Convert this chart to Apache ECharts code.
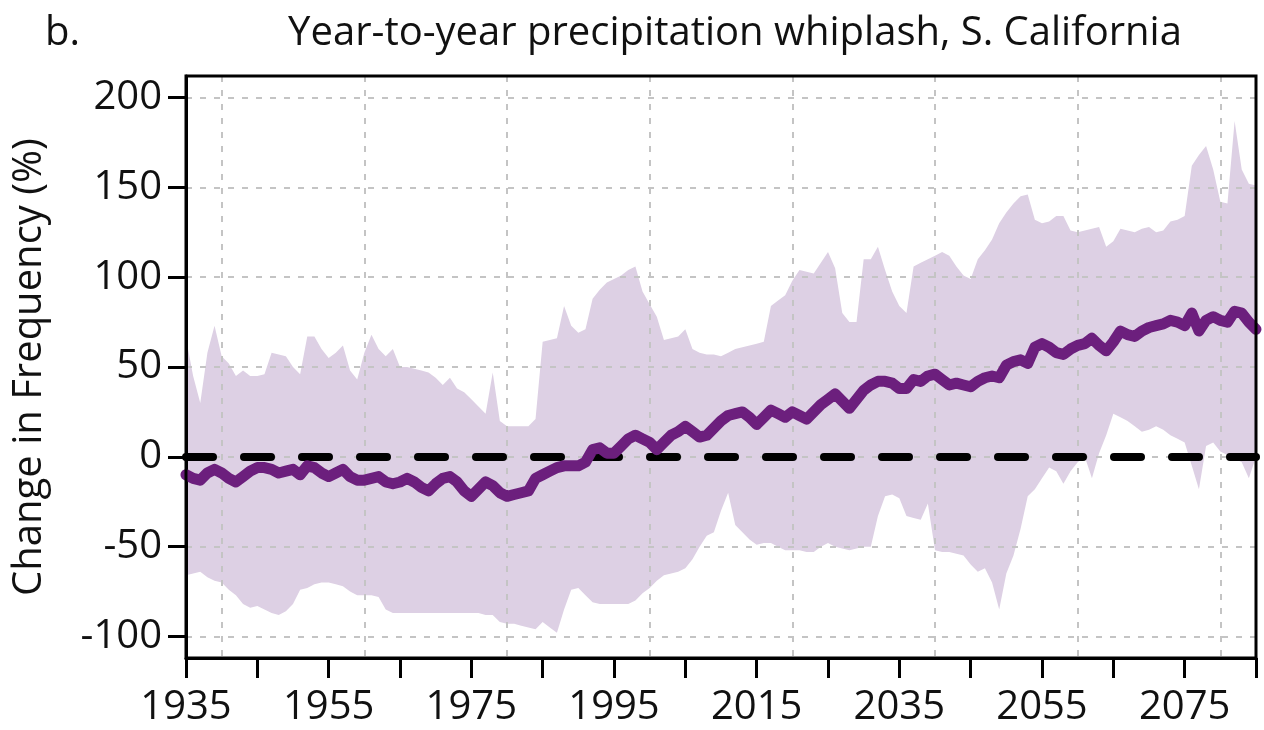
<!DOCTYPE html>
<html>
<head>
<meta charset="utf-8">
<title>Year-to-year precipitation whiplash</title>
<script src="https://cdn.jsdelivr.net/npm/echarts@6/dist/echarts.min.js"></script>
<style>
  html, body { margin: 0; padding: 0; background: #fff; }
  #chart { width: 1264px; height: 730px; }
</style>
</head>
<body>
<div id="chart"></div>
<script>
// first year of the series, one value per year afterwards
const startYear = 1935;

// multi-model mean change in frequency (%)
const meanChange = [
  -10, -12, -13, -9, -7, -9, -12, -14, -11, -8,
  -6, -6, -7, -9, -8, -7, -10, -5, -6, -9,
  -11, -9, -7, -11, -13, -13, -12, -11, -14, -15,
  -14, -12, -14, -17, -19, -15, -12, -11, -14, -19,
  -22, -18, -14, -16, -20, -22, -21, -20, -19, -12,
  -10, -8, -6, -5, -5, -5, -3, 4, 5, 2,
  2, 6, 10, 12, 10, 8, 4, 8, 12, 14,
  17, 14, 11, 12, 16, 20, 23, 24, 25, 22,
  18, 22, 26, 24, 22, 25, 23, 21, 25, 29,
  32, 35, 31, 27, 32, 37, 40, 42, 42, 41,
  38, 38, 43, 42, 45, 46, 43, 40, 41, 40,
  39, 42, 44, 45, 44, 51, 53, 54, 52, 61,
  63, 61, 58, 57, 60, 62, 63, 66, 62, 59,
  64, 70, 68, 67, 70, 72, 73, 74, 76, 75,
  73, 80, 70, 76, 78, 76, 75, 81, 80, 75,
  71
];

// upper edge of the model spread
const upperChange = [
  66, 45, 30, 58, 73, 56, 52, 45, 48, 45,
  45, 46, 58, 57, 56, 50, 46, 67, 67, 60,
  55, 58, 62, 48, 43, 58, 68, 60, 56, 60,
  50, 50, 49, 48, 47, 44, 40, 44, 38, 36,
  32, 28, 24, 47, 20, 17, 17, 17, 17, 21,
  64, 65, 66, 84, 73, 69, 71, 88, 93, 97,
  99, 101, 104, 106, 92, 85, 78, 65, 66, 67,
  71, 60, 58, 57, 57, 56, 58, 60, 61, 62,
  63, 64, 84, 87, 90, 98, 104, 103, 102, 108,
  114, 105, 80, 75, 75, 110, 110, 117, 104, 92,
  84, 80, 106, 108, 110, 112, 114, 112, 106, 101,
  99, 110, 115, 121, 130, 136, 141, 145, 146, 132,
  130, 131, 134, 134, 126, 125, 126, 127, 128, 117,
  120, 127, 126, 125, 127, 128, 125, 126, 131, 132,
  134, 162, 168, 173, 160, 142, 141, 187, 160, 152,
  151
];

// lower edge of the model spread
const lowerChange = [
  -66, -65, -64, -67, -69, -70, -74, -77, -82, -84,
  -83, -85, -87, -88, -86, -82, -74, -73, -71, -70,
  -70, -71, -72, -75, -77, -77, -77, -78, -85, -87,
  -87, -87, -87, -87, -87, -87, -87, -87, -87, -87,
  -87, -87, -88, -88, -92, -93, -93, -94, -95, -96,
  -92, -95, -98, -85, -74, -73, -77, -81, -82, -82,
  -82, -82, -82, -80, -76, -73, -69, -66, -65, -64,
  -62, -57, -50, -44, -42, -30, -20, -38, -42, -46,
  -49, -48, -48, -50, -52, -52, -52, -53, -53, -50,
  -48, -50, -51, -52, -51, -50, -50, -33, -22, -21,
  -23, -33, -34, -35, -26, -52, -53, -53, -54, -55,
  -60, -64, -62, -70, -85, -65, -55, -40, -22, -18,
  -12, -6, -8, -15, -8, -3, 0, -12, 2, 12,
  24, 22, 20, 17, 14, 15, 17, 15, 12, 10,
  8, -5, -18, 6, 8, 3, 1, -1, -3, -12,
  0
];

// axis ticks and labels
const xTickYears = [1935, 1945, 1955, 1965, 1975, 1985, 1995, 2005, 2015, 2025, 2035, 2045, 2055, 2065, 2075, 2085];
const xLabelYears = [1935, 1955, 1975, 1995, 2015, 2035, 2055, 2075];
const xGridYears = [1940, 1960, 1980, 2000, 2020, 2040, 2060, 2080];
const yTicks = [-100, -50, 0, 50, 100, 150, 200];
const zeroLevel = 0;

const toPairs = (arr) => arr.map((v, i) => [startYear + i, v]);
const bandData = upperChange.map((u, i) => [startYear + i, lowerChange[i], u]);

const FONT = "'Open Sans', 'Liberation Sans', sans-serif";
const gridLine = { show: true, lineStyle: { color: "#c4c4c4", width: 2, type: [6, 8] } };

const chart = echarts.init(document.getElementById("chart"));

// spread drawn as one polygon: upper edge left->right, lower edge back
function renderBand(params, api) {
  if (params.dataIndex !== 0) return null;
  const top = [];
  const bottom = [];
  for (let i = 0; i < bandData.length; i++) {
    top.push(api.coord([bandData[i][0], bandData[i][2]]));
    bottom.push(api.coord([bandData[i][0], bandData[i][1]]));
  }
  return {
    type: "polygon",
    shape: { points: top.concat(bottom.reverse()) },
    style: { fill: "#ddd0e4" },
    silent: true
  };
}

const options = {
  backgroundColor: "#fff",
  animation: false,
  textStyle: { fontFamily: FONT, color: "#111" },
  title: [
    {
      text: "Year-to-year precipitation whiplash, S. California",
      left: 730, top: 9, textAlign: "center",
      textStyle: { fontFamily: FONT, fontSize: 40, fontWeight: "normal", color: "#111" }
    },
    {
      text: "b.", left: 40, top: 9,
      textStyle: { fontFamily: FONT, fontSize: 40, fontWeight: "normal", color: "#111" }
    }
  ],
  grid: {
    left: 186, right: 8, top: 76, bottom: 72,
    show: true, borderColor: "#000", borderWidth: 3, z: 10
  },
  xAxis: [
    {
      type: "value", min: 1935, max: 2085, interval: 10, z: 6,
      axisLine: { show: true, onZero: false, lineStyle: { color: "#000", width: 3 } },
      axisTick: { show: true, length: 20, lineStyle: { color: "#000", width: 3 }, customValues: xTickYears },
      axisLabel: {
        customValues: xLabelYears, fontSize: 40, color: "#111", margin: 30, fontFamily: FONT,
        formatter: (v) => String(v)
      },
      splitLine: { show: false }
    },
    {
      type: "value", min: 1935, max: 2085, position: "bottom", z: 3,
      axisLine: { show: false, onZero: false },
      axisTick: { show: false, customValues: xGridYears },
      axisLabel: { show: false, customValues: xGridYears },
      splitLine: gridLine
    }
  ],
  yAxis: {
    type: "value", min: -112, max: 212, z: 3,
    name: "Change in Frequency (%)", nameLocation: "middle", nameGap: 136,
    nameTextStyle: { fontSize: 40, color: "#111", fontFamily: FONT },
    axisLine: { show: true, onZero: false, lineStyle: { color: "#000", width: 3 } },
    axisTick: { show: true, length: 18, lineStyle: { color: "#000", width: 3 }, customValues: yTicks },
    axisLabel: { customValues: yTicks, fontSize: 40, color: "#111", margin: 24, fontFamily: FONT },
    splitLine: gridLine
  },
  series: [
    {
      name: "spread", type: "custom", renderItem: renderBand,
      data: bandData, encode: { x: 0, y: [1, 2] }, z: 2, silent: true
    },
    {
      name: "zero", type: "line", data: [], z: 4,
      markLine: {
        silent: true, symbol: "none", label: { show: false },
        lineStyle: { color: "#000", width: 8, type: [27, 31], cap: "round" },
        data: [{ yAxis: zeroLevel }]
      }
    },
    {
      name: "mean", type: "line", data: toPairs(meanChange), z: 5,
      symbol: "none", lineStyle: { color: "#6c1f7d", width: 11, join: "round", cap: "round" }
    }
  ]
};

chart.setOption(options);
</script>
</body>
</html>
